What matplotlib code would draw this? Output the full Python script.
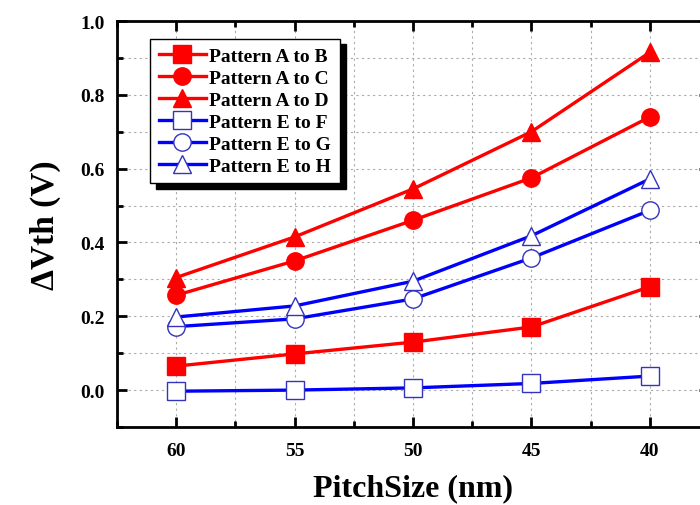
import matplotlib.pyplot as plt
from matplotlib.ticker import MultipleLocator
import numpy as np

pitch = [60, 55, 50, 45, 40]
a_to_b = [0.065, 0.098, 0.130, 0.171, 0.280]
a_to_c = [0.257, 0.350, 0.460, 0.575, 0.740]
a_to_d = [0.305, 0.415, 0.545, 0.700, 0.915]
e_to_f = [-0.003, 0.000, 0.006, 0.018, 0.038]
e_to_g = [0.172, 0.193, 0.247, 0.358, 0.487]
e_to_h = [0.198, 0.228, 0.295, 0.418, 0.572]

plt.rcParams['font.family'] = 'Liberation Serif'
plt.rcParams['font.weight'] = 'bold'

fig = plt.figure(figsize=(7, 5.06), dpi=100)
ax = fig.add_axes([117 / 700, 78 / 506, 592 / 700, 406 / 506])

series = [
    (a_to_b, "Pattern A to B", "red", "s", "red"),
    (a_to_c, "Pattern A to C", "red", "o", "red"),
    (a_to_d, "Pattern A to D", "red", "^", "red"),
    (e_to_f, "Pattern E to F", "blue", "s", "white"),
    (e_to_g, "Pattern E to G", "blue", "o", "white"),
    (e_to_h, "Pattern E to H", "blue", "^", "white"),
]
for vals, label, col, mk, face in series:
    ax.plot(pitch, vals, color=col, linewidth=2.4, marker=mk, markersize=12.5,
            markerfacecolor=face, markeredgecolor=col if face != "white" else "#3333bb",
            markeredgewidth=1.0, label=label, zorder=3)

ax.set_xlim(62.5, 37.5)
ax.set_ylim(-0.1, 1.0)
ax.xaxis.set_major_locator(MultipleLocator(5))
ax.xaxis.set_minor_locator(MultipleLocator(2.5))
ax.yaxis.set_minor_locator(MultipleLocator(0.1))
ax.set_yticks([0.0, 0.2, 0.4, 0.6, 0.8, 1.0])
ax.set_yticklabels(["0.0", "0.2", "0.4", "0.6", "0.8", "1.0"])

ax.grid(True, which="both", color="#aaaaaa", linestyle=(0, (2, 3)), linewidth=0.8, zorder=0)
ax.tick_params(which="both", direction="in", top=True, right=True, width=2,
               labelsize=14)
ax.tick_params(axis="x", pad=11)
ax.tick_params(axis="y", pad=9)
ax.tick_params(which="major", length=7)
ax.tick_params(which="minor", length=4)
for s in ax.spines.values():
    s.set_linewidth(2)

ax.set_xlabel("PitchSize (nm)", fontsize=23, fontweight="bold", labelpad=10)
ax.set_ylabel("\u0394Vth (V)", fontsize=24, fontweight="bold", labelpad=14)

leg = ax.legend(loc="upper left", bbox_to_anchor=(0.056, 0.956), fontsize=14,
                frameon=True, fancybox=False, edgecolor="black", handlelength=2.4,
                handletextpad=0.2, borderpad=0.45, labelspacing=0.22,
                borderaxespad=0,
                shadow={"ox": 4, "oy": -4, "color": "black", "alpha": 1})
leg.get_frame().set_linewidth(1.0)

fig.savefig("out.png", dpi=100)
